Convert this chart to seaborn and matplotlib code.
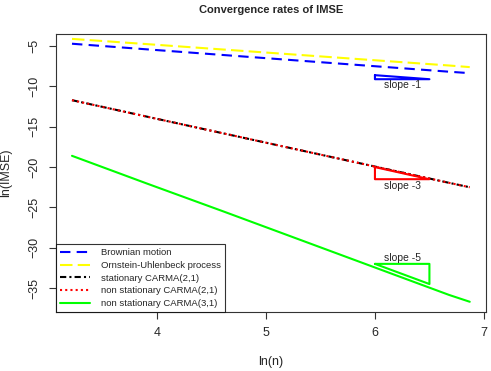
import numpy as np
import pandas as pd
import matplotlib
matplotlib.use("Agg")
import matplotlib.pyplot as plt
import seaborn as sns

# values
ln_n = [3.22, 3.91, 4.61, 5.30, 5.99, 6.68, 6.87]
brownian = [-4.70, -5.40, -6.10, -6.79, -7.48, -8.17, -8.35]
ornstein = [-4.10, -4.75, -5.42, -6.08, -6.74, -7.40, -7.60]
carma21_stat = [-11.70, -13.75, -15.82, -17.86, -19.90, -21.95, -22.50]
carma21_nonstat = [-11.70, -13.75, -15.82, -17.86, -19.90, -21.95, -22.50]
carma31_nonstat = [-18.60, -22.05, -25.50, -28.95, -32.40, -35.85, -36.70]

series_names = ["Brownian motion", "Ornstein-Uhlenbeck process",
                "stationary CARMA(2,1)", "non stationary CARMA(2,1)",
                "non stationary CARMA(3,1)"]
series_vals = [brownian, ornstein, carma21_stat, carma21_nonstat, carma31_nonstat]
colors = ["#0000ff", "#ffff00", "#000000", "#ff0000", "#00ff00"]
dash_styles = [(5, 3), (6, 2.5), (3, 1.5, 1, 1.5), (1, 1.5), None]

# slope triangles (x, y corners)
tri_x = [6.0, 6.5, 6.0, 6.0]
tri_blue_y = [-8.6, -9.1, -9.1, -8.6]
tri_red_y = [-20.0, -21.5, -21.5, -20.0]
tri_green_x = [6.0, 6.5, 6.5, 6.0]
tri_green_y = [-32.0, -32.0, -34.5, -32.0]

sns.set_style("ticks")
plt.rcParams['font.family'] = ['Liberation Sans', 'DejaVu Sans']

fig = plt.figure(figsize=(4.91, 3.71), dpi=100)
ax = fig.add_axes([0.114, 0.159, 0.876, 0.749])

df = pd.DataFrame({"x": ln_n})
for name, vals, c, d in zip(series_names, series_vals, colors, dash_styles):
    df["y"] = vals
    sns.lineplot(data=df, x="x", y="y", ax=ax, color=c, linewidth=1.5,
                 label=name, dashes=False)
    ln = ax.lines[-1]
    if d is not None:
        ln.set_dashes(d)

tri = pd.DataFrame({"x": tri_x, "b": tri_blue_y, "r": tri_red_y})
sns.lineplot(data=tri, x="x", y="b", ax=ax, color="#0000ff", linewidth=1.5,
             sort=False, estimator=None)
sns.lineplot(data=tri, x="x", y="r", ax=ax, color="#ff0000", linewidth=1.5,
             sort=False, estimator=None)
trig = pd.DataFrame({"x": tri_green_x, "y": tri_green_y})
sns.lineplot(data=trig, x="x", y="y", ax=ax, color="#00ff00", linewidth=1.5,
             sort=False, estimator=None)

ax.text(6.25, -9.85, "slope -1", ha="center", va="center", fontsize=7.5)
ax.text(6.25, -22.3, "slope -3", ha="center", va="center", fontsize=7.5)
ax.text(6.25, -31.3, "slope -5", ha="center", va="center", fontsize=7.5)

ax.set_xlim(3.073, 7.02)
ax.set_ylim(-37.97, -3.51)
ax.set_xticks([4, 5, 6, 7])
ax.set_yticks([-5, -10, -15, -20, -25, -30, -35])
ax.tick_params(axis="both", length=5, width=0.8, labelsize=9, pad=6, color="#333333")
for lab in ax.get_yticklabels():
    lab.set_rotation(90)
    lab.set_va("center")
for sp in ax.spines.values():
    sp.set_visible(True)
    sp.set_color("#333333")
    sp.set_linewidth(0.8)

ax.set_xlabel("ln(n)", fontsize=9, labelpad=12)
ax.set_ylabel("ln(IMSE)", fontsize=9, labelpad=12)
fig.text(0.553, 0.972, "Convergence rates of IMSE", ha="center", va="center",
         fontsize=8, fontweight="bold")

handles, labels = ax.get_legend_handles_labels()
leg = ax.legend(handles[:5], labels[:5], loc="lower left", fontsize=6.8,
                frameon=True, fancybox=False, borderaxespad=0,
                handlelength=3.2, handletextpad=1.2, labelspacing=0.4,
                borderpad=0.4)
leg.get_frame().set_edgecolor("black")
leg.get_frame().set_linewidth(0.8)

fig.savefig("out.png", dpi=100)
